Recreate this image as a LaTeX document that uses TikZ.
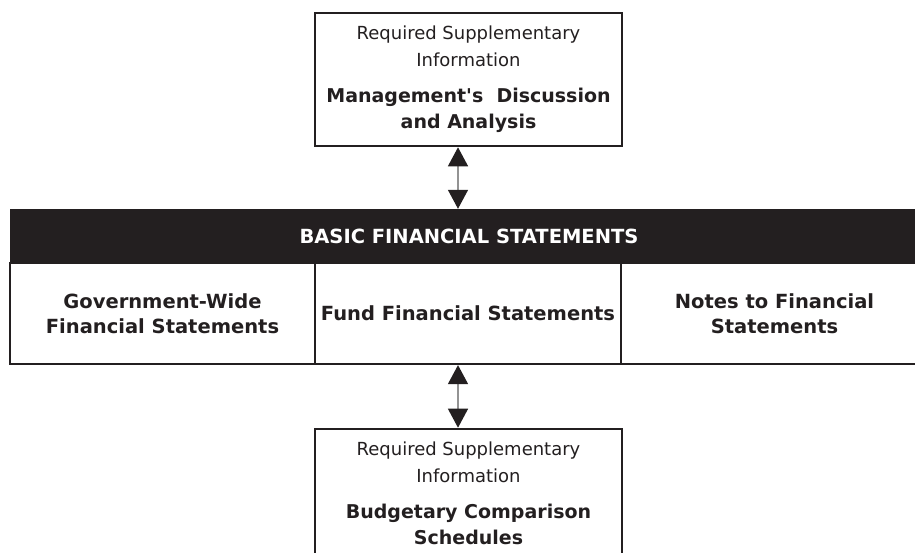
\documentclass[tikz,border=0pt]{standalone}
\usepackage{fontspec}
\setmainfont{DejaVu Sans}[Ligatures=TeXOff]
\usepackage{xcolor}
\usetikzlibrary{arrows.meta}
\definecolor{inkblack}{HTML}{231F20}
\newcommand{\rsifont}{\fontsize{18}{26.7}\selectfont}
\newcommand{\rsibold}{\fontsize{19}{26.5}\selectfont\bfseries}
\newcommand{\cellfont}{\fontsize{19.5}{24.5}\selectfont\bfseries}

\begin{document}
\begin{tikzpicture}[
  x=1pt, y=-1pt,
  rsibox/.style={rectangle, draw=inkblack, line width=2.6pt, minimum width=307pt, minimum height=133pt,
              inner sep=0pt, align=center, text=inkblack, font=\rsifont},
  band/.style={rectangle, fill=inkblack, minimum width=918pt, minimum height=54pt,
              inner sep=0pt, text=white, font=\cellfont},
  cell/.style={rectangle, draw=inkblack, line width=2.2pt, minimum height=101pt,
              inner sep=0pt, align=center, text=inkblack, font=\cellfont},
  dblarrow/.style={{Triangle[length=19pt,width=20pt,color=inkblack,fill=inkblack]}-{Triangle[length=19pt,width=20pt,color=inkblack,fill=inkblack]},
              line width=1.4pt, draw=gray!85}
]
\clip (0,0) rectangle (915,552);

% Boxes
\node[rsibox] (mda) at (468.5,79.5) {Required Supplementary\\Information\\[9pt]{\rsibold Management's\ \ Discussion}\\{\rsibold and Analysis}};
\node[band] (basic) at (469,236) {BASIC FINANCIAL STATEMENTS};
\node[cell, minimum width=305pt] (gov) at (162.5,313.5) {Government-Wide\\Financial Statements};
\node[cell, minimum width=306pt] (fund) at (468,313.5) {Fund Financial Statements};
\node[cell, minimum width=307pt] (notes) at (774.5,313.5) {Notes to Financial\\Statements};
\node[rsibox, minimum height=129pt] (budget) at (468.5,493.5) {Required Supplementary\\Information\\[9pt]{\rsibold Budgetary Comparison}\\{\rsibold Schedules}};

% Arrows
\draw[dblarrow] ([xshift=-10.5pt]mda.south) -- ([xshift=-10.5pt]mda.south |- basic.north);
\draw[dblarrow] ([xshift=-10pt]fund.south) -- ([xshift=-10pt]fund.south |- budget.north);
\end{tikzpicture}
\end{document}
